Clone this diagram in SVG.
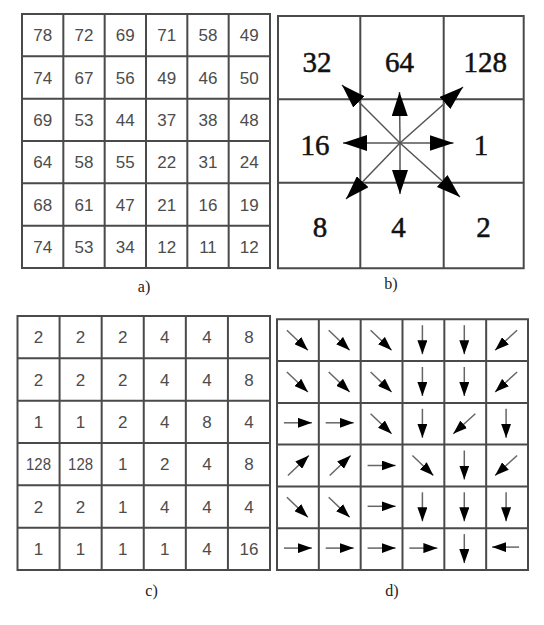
<svg xmlns="http://www.w3.org/2000/svg" width="544" height="625" viewBox="0 0 544 625">
<style>
.grid{fill:none;stroke:#4a4a4a;stroke-width:2}
.num{font-family:"Liberation Sans",Arial,sans-serif;font-size:17px;fill:#4c4c4c;text-anchor:middle}
.big{font-family:"Liberation Serif","Times New Roman",serif;font-size:29px;fill:#111;stroke:#111;stroke-width:0.5;text-anchor:middle}
.cap{font-family:"Liberation Serif","Times New Roman",serif;font-size:16px;fill:#222;text-anchor:middle}
.shaftB{stroke:#555;stroke-width:1.5;fill:none;marker-end:url(#hb)}
.shaftS{stroke:#666;stroke-width:1.5;fill:none;marker-end:url(#hs)}
</style>
<defs>
<marker id="hb" viewBox="0 0 24 16" markerWidth="24" markerHeight="16" refX="24" refY="8" orient="auto" markerUnits="userSpaceOnUse"><path d="M0,0 L24,8 L0,16 z" fill="#000"/></marker>
<marker id="hs" viewBox="0 0 14 10" markerWidth="14" markerHeight="10" refX="14" refY="5" orient="auto" markerUnits="userSpaceOnUse"><path d="M0,0 L14,5 L0,10 z" fill="#000"/></marker>
</defs>
<rect width="544" height="625" fill="#fff"/>

<g id="panel-a">
<path class="grid" d="M22,14H270V268H22Z M63.33,14V268 M104.67,14V268 M146,14V268 M187.33,14V268 M228.67,14V268 M22,56.33H270 M22,98.67H270 M22,141H270 M22,183.33H270 M22,225.67H270"/>
<g class="num">
<text x="42.7" y="41.2">78</text><text x="84" y="41.2">72</text><text x="125.3" y="41.2">69</text><text x="166.7" y="41.2">71</text><text x="208" y="41.2">58</text><text x="249.3" y="41.2">49</text>
<text x="42.7" y="83.5">74</text><text x="84" y="83.5">67</text><text x="125.3" y="83.5">56</text><text x="166.7" y="83.5">49</text><text x="208" y="83.5">46</text><text x="249.3" y="83.5">50</text>
<text x="42.7" y="125.8">69</text><text x="84" y="125.8">53</text><text x="125.3" y="125.8">44</text><text x="166.7" y="125.8">37</text><text x="208" y="125.8">38</text><text x="249.3" y="125.8">48</text>
<text x="42.7" y="168.2">64</text><text x="84" y="168.2">58</text><text x="125.3" y="168.2">55</text><text x="166.7" y="168.2">22</text><text x="208" y="168.2">31</text><text x="249.3" y="168.2">24</text>
<text x="42.7" y="210.5">68</text><text x="84" y="210.5">61</text><text x="125.3" y="210.5">47</text><text x="166.7" y="210.5">21</text><text x="208" y="210.5">16</text><text x="249.3" y="210.5">19</text>
<text x="42.7" y="252.8">74</text><text x="84" y="252.8">53</text><text x="125.3" y="252.8">34</text><text x="166.7" y="252.8">12</text><text x="208" y="252.8">11</text><text x="249.3" y="252.8">12</text>
</g>
<text class="cap" x="144" y="292">a)</text>
</g>

<g id="panel-b">
<path class="grid" d="M278,16H523.7V268.3H278Z M360.3,16V268.3 M443.7,16V268.3 M278,99.3H523.7 M278,182.7H523.7"/>
<g class="big">
<text x="317" y="72">32</text><text x="399.5" y="72">64</text><text x="485.3" y="72">128</text>
<text x="315" y="155">16</text><text x="481" y="155">1</text>
<text x="320" y="237">8</text><text x="398.5" y="237">4</text><text x="483.5" y="237">2</text>
</g>
<g id="b-arrows">
<line class="shaftB" x1="400" y1="143" x2="399.5" y2="92"/>
<line class="shaftB" x1="400" y1="143" x2="400" y2="194"/>
<line class="shaftB" x1="400" y1="143" x2="343" y2="143"/>
<line class="shaftB" x1="400" y1="143" x2="453.5" y2="143"/>
<line class="shaftB" x1="400" y1="143" x2="342" y2="85"/>
<line class="shaftB" x1="400" y1="143" x2="463" y2="87"/>
<line class="shaftB" x1="400" y1="143" x2="346" y2="199"/>
<line class="shaftB" x1="400" y1="143" x2="460" y2="197"/>
</g>
<text class="cap" x="391" y="289">b)</text>
</g>

<g id="panel-c">
<path class="grid" d="M17.5,316H270V570H17.5Z M59.58,316V570 M101.67,316V570 M143.75,316V570 M185.83,316V570 M227.92,316V570 M17.5,358.33H270 M17.5,400.67H270 M17.5,443H270 M17.5,485.33H270 M17.5,527.67H270"/>
<g class="num">
<text x="38.5" y="343.2">2</text><text x="80.6" y="343.2">2</text><text x="122.7" y="343.2">2</text><text x="164.8" y="343.2">4</text><text x="206.9" y="343.2">4</text><text x="249" y="343.2">8</text>
<text x="38.5" y="385.5">2</text><text x="80.6" y="385.5">2</text><text x="122.7" y="385.5">2</text><text x="164.8" y="385.5">4</text><text x="206.9" y="385.5">4</text><text x="249" y="385.5">8</text>
<text x="38.5" y="427.8">1</text><text x="80.6" y="427.8">1</text><text x="122.7" y="427.8">2</text><text x="164.8" y="427.8">4</text><text x="206.9" y="427.8">8</text><text x="249" y="427.8">4</text>
<text x="38.5" y="470.2" textLength="25" lengthAdjust="spacingAndGlyphs">128</text><text x="80.6" y="470.2" textLength="25" lengthAdjust="spacingAndGlyphs">128</text><text x="122.7" y="470.2">1</text><text x="164.8" y="470.2">2</text><text x="206.9" y="470.2">4</text><text x="249" y="470.2">8</text>
<text x="38.5" y="512.5">2</text><text x="80.6" y="512.5">2</text><text x="122.7" y="512.5">1</text><text x="164.8" y="512.5">4</text><text x="206.9" y="512.5">4</text><text x="249" y="512.5">4</text>
<text x="38.5" y="554.8">1</text><text x="80.6" y="554.8">1</text><text x="122.7" y="554.8">1</text><text x="164.8" y="554.8">1</text><text x="206.9" y="554.8">4</text><text x="249" y="554.8">16</text>
</g>
<text class="cap" x="151.5" y="596">c)</text>
</g>

<g id="panel-d">
<path class="grid" d="M277,319.3H528V570H277Z M318.83,319.3V570 M360.67,319.3V570 M402.5,319.3V570 M444.33,319.3V570 M486.17,319.3V570 M277,361.1H528 M277,402.9H528 M277,444.6H528 M277,486.4H528 M277,528.2H528"/>
<g id="d-arrows">
<line class="shaftS" x1="286.9" y1="330.2" x2="307.9" y2="350.2"/>
<line class="shaftS" x1="328.7" y1="330.2" x2="349.7" y2="350.2"/>
<line class="shaftS" x1="370.6" y1="330.2" x2="391.6" y2="350.2"/>
<line class="shaftS" x1="422.4" y1="325.2" x2="422.4" y2="354.2"/>
<line class="shaftS" x1="464.3" y1="325.2" x2="464.3" y2="354.2"/>
<line class="shaftS" x1="517.1" y1="330.2" x2="495.1" y2="350.2"/>

<line class="shaftS" x1="286.9" y1="372" x2="307.9" y2="392"/>
<line class="shaftS" x1="328.7" y1="372" x2="349.7" y2="392"/>
<line class="shaftS" x1="370.6" y1="372" x2="391.6" y2="392"/>
<line class="shaftS" x1="422.4" y1="367" x2="422.4" y2="396"/>
<line class="shaftS" x1="464.3" y1="367" x2="464.3" y2="396"/>
<line class="shaftS" x1="517.1" y1="372" x2="495.1" y2="392"/>

<line class="shaftS" x1="283.9" y1="422.8" x2="311.9" y2="422.8"/>
<line class="shaftS" x1="325.7" y1="422.8" x2="353.7" y2="422.8"/>
<line class="shaftS" x1="370.6" y1="413.8" x2="391.6" y2="433.8"/>
<line class="shaftS" x1="422.4" y1="408.8" x2="422.4" y2="437.8"/>
<line class="shaftS" x1="475.3" y1="413.8" x2="453.3" y2="433.8"/>
<line class="shaftS" x1="506.1" y1="408.8" x2="506.1" y2="437.8"/>

<line class="shaftS" x1="287.9" y1="475.5" x2="308.9" y2="455.5"/>
<line class="shaftS" x1="329.7" y1="475.5" x2="350.7" y2="455.5"/>
<line class="shaftS" x1="367.6" y1="465.5" x2="395.6" y2="465.5"/>
<line class="shaftS" x1="412.4" y1="455.5" x2="433.4" y2="475.5"/>
<line class="shaftS" x1="464.3" y1="450.5" x2="464.3" y2="479.5"/>
<line class="shaftS" x1="517.1" y1="455.5" x2="495.1" y2="475.5"/>

<line class="shaftS" x1="286.9" y1="497.3" x2="307.9" y2="517.3"/>
<line class="shaftS" x1="328.7" y1="497.3" x2="349.7" y2="517.3"/>
<line class="shaftS" x1="367.6" y1="506.3" x2="395.6" y2="506.3"/>
<line class="shaftS" x1="422.4" y1="492.3" x2="422.4" y2="521.3"/>
<line class="shaftS" x1="464.3" y1="492.3" x2="464.3" y2="521.3"/>
<line class="shaftS" x1="506.1" y1="492.3" x2="506.1" y2="521.3"/>

<line class="shaftS" x1="283.9" y1="548.1" x2="311.9" y2="548.1"/>
<line class="shaftS" x1="325.7" y1="548.1" x2="353.7" y2="548.1"/>
<line class="shaftS" x1="367.6" y1="548.1" x2="395.6" y2="548.1"/>
<line class="shaftS" x1="409.4" y1="548.1" x2="437.4" y2="548.1"/>
<line class="shaftS" x1="464.3" y1="534.1" x2="464.3" y2="563.1"/>
<line class="shaftS" x1="519.1" y1="547.1" x2="492.1" y2="547.1"/>
</g>
<text class="cap" x="392" y="596">d)</text>
</g>
</svg>
